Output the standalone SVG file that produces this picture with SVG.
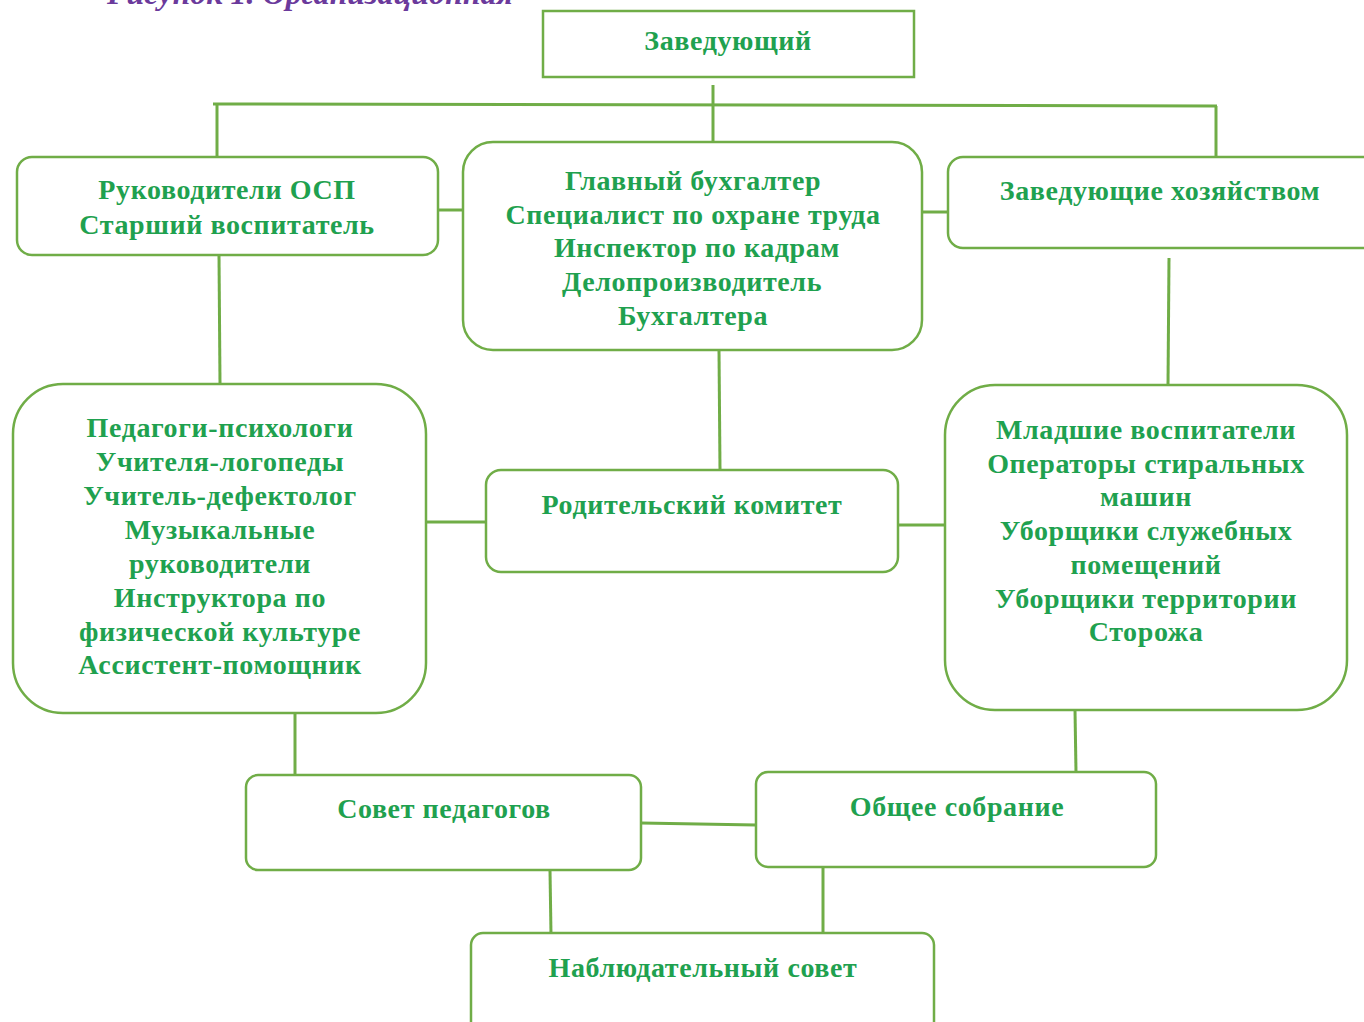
<svg xmlns="http://www.w3.org/2000/svg" width="1364" height="1022" viewBox="0 0 1364 1022">
<style>
.box{fill:#ffffff;stroke:#70ad47;stroke-width:2.5}
.ln{stroke:#70ad47;stroke-width:3;fill:none}
.t{font-family:"Liberation Serif","Times New Roman",serif;font-weight:bold;font-size:28px;fill:#1fa14f;text-anchor:middle;letter-spacing:0.6px}
.cap{font-family:"Liberation Serif","Times New Roman",serif;font-weight:bold;font-style:italic;font-size:32px;fill:#6b3a9c}
</style>
<rect width="1364" height="1022" fill="#ffffff"/>
<text class="cap" x="107" y="4">Рисунок 1. Организационная</text>
<g id="connectors">
<line class="ln" x1="213" y1="104" x2="1217" y2="106"/>
<line class="ln" x1="713" y1="85" x2="713" y2="147"/>
<line class="ln" x1="217" y1="104" x2="217" y2="157"/>
<line class="ln" x1="1216" y1="106" x2="1216" y2="160"/>
<line class="ln" x1="438" y1="210" x2="463" y2="210"/>
<line class="ln" x1="922" y1="212" x2="948" y2="212"/>
<line class="ln" x1="219" y1="255" x2="220" y2="384"/>
<line class="ln" x1="719" y1="350" x2="720" y2="470"/>
<line class="ln" x1="1169" y1="258" x2="1168" y2="385"/>
<line class="ln" x1="426" y1="522" x2="486" y2="522"/>
<line class="ln" x1="898" y1="525" x2="945" y2="525"/>
<line class="ln" x1="295" y1="713" x2="295" y2="775"/>
<line class="ln" x1="1075" y1="710" x2="1076" y2="772"/>
<line class="ln" x1="641" y1="823" x2="756" y2="825"/>
<line class="ln" x1="550" y1="870" x2="551" y2="935"/>
<line class="ln" x1="823" y1="867" x2="823" y2="933"/>
</g>
<g id="n-head">
<rect class="box" x="543" y="11" width="371" height="66"/>
<text class="t" x="728" y="50">Заведующий</text>
</g>
<g id="n-osp">
<rect class="box" x="17" y="157" width="421" height="98" rx="15"/>
<text class="t" x="227" y="199">Руководители ОСП</text>
<text class="t" x="227" y="234">Старший воспитатель</text>
</g>
<g id="n-buh">
<rect class="box" x="463" y="142" width="459" height="208" rx="30"/>
<text class="t" x="693" y="190">Главный бухгалтер</text>
<text class="t" x="693" y="224">Специалист по охране труда</text>
<text class="t" x="697" y="257">Инспектор по кадрам</text>
<text class="t" x="692" y="291">Делопроизводитель</text>
<text class="t" x="693" y="325">Бухгалтера</text>
</g>
<g id="n-hoz">
<rect class="box" x="948" y="157" width="430" height="91" rx="15"/>
<text class="t" x="1160" y="200">Заведующие хозяйством</text>
</g>
<g id="n-ped">
<rect class="box" x="13" y="384" width="413" height="329" rx="50"/>
<text class="t" x="220" y="437">Педагоги-психологи</text>
<text class="t" x="220" y="471">Учителя-логопеды</text>
<text class="t" x="220" y="505">Учитель-дефектолог</text>
<text class="t" x="220" y="539">Музыкальные</text>
<text class="t" x="220" y="573">руководители</text>
<text class="t" x="220" y="607">Инструктора по</text>
<text class="t" x="220" y="641">физической культуре</text>
<text class="t" x="220" y="674">Ассистент-помощник</text>
</g>
<g id="n-rod">
<rect class="box" x="486" y="470" width="412" height="102" rx="15"/>
<text class="t" x="692" y="514">Родительский комитет</text>
</g>
<g id="n-mlad">
<rect class="box" x="945" y="385" width="402" height="325" rx="50"/>
<text class="t" x="1146" y="439">Младшие воспитатели</text>
<text class="t" x="1146" y="473">Операторы стиральных</text>
<text class="t" x="1146" y="506">машин</text>
<text class="t" x="1146" y="540">Уборщики служебных</text>
<text class="t" x="1146" y="574">помещений</text>
<text class="t" x="1146" y="608">Уборщики территории</text>
<text class="t" x="1146" y="641">Сторожа</text>
</g>
<g id="n-sovet">
<rect class="box" x="246" y="775" width="395" height="95" rx="12"/>
<text class="t" x="444" y="818">Совет педагогов</text>
</g>
<g id="n-obsh">
<rect class="box" x="756" y="772" width="400" height="95" rx="12"/>
<text class="t" x="957" y="816">Общее собрание</text>
</g>
<g id="n-nabl">
<rect class="box" x="471" y="933" width="463" height="110" rx="12"/>
<text class="t" x="703" y="977">Наблюдательный совет</text>
</g>
</svg>
